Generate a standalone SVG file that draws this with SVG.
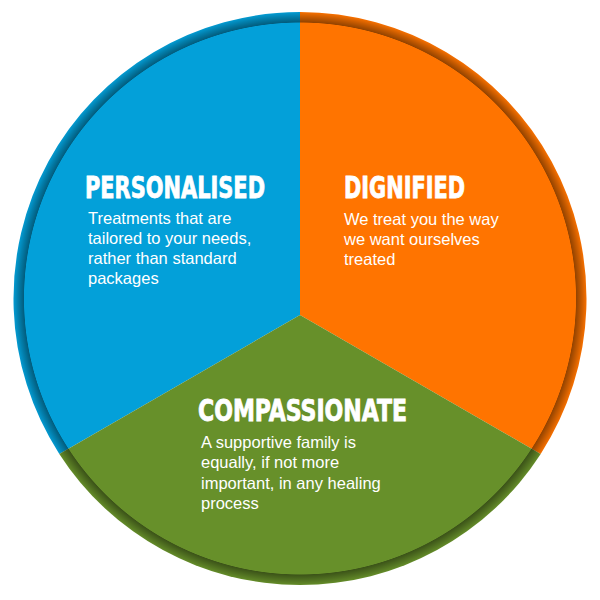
<svg xmlns="http://www.w3.org/2000/svg" width="600" height="600" viewBox="0 0 600 600">
  <defs>
    <radialGradient id="rim" gradientUnits="userSpaceOnUse" cx="300" cy="298.5" r="286.5">
      <stop offset="0.962" stop-color="#000" stop-opacity="0"/>
      <stop offset="0.9645" stop-color="#000" stop-opacity="0.42"/>
      <stop offset="0.985" stop-color="#000" stop-opacity="0.2"/>
      <stop offset="1" stop-color="#000" stop-opacity="0.03"/>
    </radialGradient>
  </defs>
  <style>
    .head { font-family: "DejaVu Sans Condensed", "Liberation Sans Narrow", "Liberation Sans", sans-serif; font-weight: bold; font-size: 30px; fill: #fff; stroke: #fff; stroke-width: 0.8px; }
    .body { font-family: "Liberation Sans", Arial, sans-serif; font-size: 16.5px; fill: #fff; }
  </style>
  <rect width="600" height="600" fill="#fff"/>
  <g id="personalised">
    <path d="M300,315 L300,12 A286.5,286.5 0 0 0 59.3,453.9 Z" fill="#03A0D9"/>
    <text class="head" x="85" y="198" textLength="180" lengthAdjust="spacingAndGlyphs">PERSONALISED</text>
    <text class="body" x="88" y="224">Treatments that are</text>
    <text class="body" x="88" y="244">tailored to your needs,</text>
    <text class="body" x="88" y="264">rather than standard</text>
    <text class="body" x="88" y="284">packages</text>
  </g>
  <g id="dignified">
    <path d="M300,315 L300,12 A286.5,286.5 0 0 1 540.7,453.9 Z" fill="#FF7400"/>
    <text class="head" x="344" y="198" textLength="121" lengthAdjust="spacingAndGlyphs">DIGNIFIED</text>
    <text class="body" x="344" y="225">We treat you the way</text>
    <text class="body" x="344" y="245">we want ourselves</text>
    <text class="body" x="344" y="265">treated</text>
  </g>
  <g id="compassionate">
    <path d="M300,315 L540.7,453.9 A286.5,286.5 0 0 1 59.3,453.9 Z" fill="#67902A"/>
    <text class="head" x="198" y="421" textLength="209" lengthAdjust="spacingAndGlyphs">COMPASSIONATE</text>
    <text class="body" x="201" y="448">A supportive family is</text>
    <text class="body" x="201" y="468">equally, if not more</text>
    <text class="body" x="201" y="489">important, in any healing</text>
    <text class="body" x="201" y="509">process</text>
  </g>
  <circle cx="300" cy="298.5" r="286.5" fill="url(#rim)"/>
</svg>
